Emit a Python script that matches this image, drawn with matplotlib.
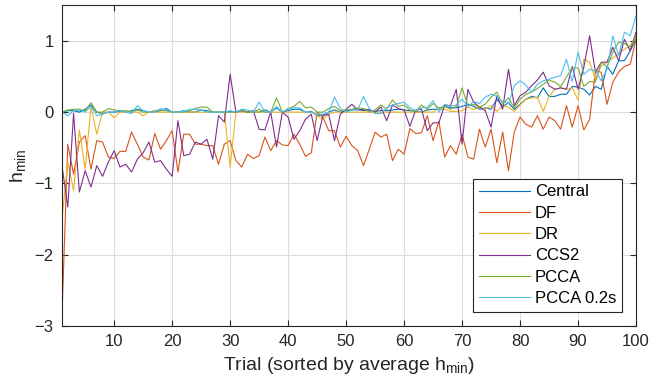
import numpy as np
import matplotlib
matplotlib.use("Agg")
import matplotlib.pyplot as plt

plt.rcParams['font.family'] = ['Liberation Sans', 'DejaVu Sans']

trials = np.arange(1, 101)

central = [0.0, 0.02, 0.02, 0.0, 0.04, 0.1, 0.0, -0.02, 0.0, 0.0,
           0.01, 0.0, 0.02, 0.04, 0.02, 0.0, 0.0, 0.02, 0.05, 0.0,
           0.0, 0.02, 0.0, 0.0, 0.03, 0.02, 0.0, 0.0, 0.0, 0.01,
           0.0, 0.03, 0.0, 0.0, 0.0, 0.03, 0.0, 0.06, 0.0, 0.02,
           0.04, 0.04, 0.0, 0.01, -0.05, -0.04, 0.0, 0.03, 0.0, 0.02,
           0.03, 0.04, 0.02, 0.03, 0.01, 0.02, 0.02, 0.03, 0.04, 0.03,
           0.02, 0.01, 0.0, 0.03, 0.04, 0.04, 0.08, 0.06, 0.06, 0.08,
           0.11, 0.08, 0.04, 0.06, 0.04, 0.18, 0.08, 0.13, 0.04, 0.11,
           0.18, 0.22, 0.2, 0.34, 0.22, 0.22, 0.25, 0.25, 0.36, 0.35,
           0.32, 0.24, 0.36, 0.32, 0.64, 0.53, 0.72, 0.72, 0.86, 1.02]

df = [-2.85, -0.45, -0.87, -0.42, -0.33, -0.8, -0.4, -0.42, -0.63, -0.65,
      -0.55, -0.55, -0.28, -0.45, -0.63, -0.67, -0.3, -0.52, -0.4, -0.26,
      -0.84, -0.31, -0.31, -0.45, -0.45, -0.47, -0.47, -0.73, -0.45, -0.4,
      -0.68, -0.77, -0.59, -0.65, -0.61, -0.35, -0.54, -0.4, -0.46, -0.47,
      -0.31, -0.45, -0.62, -0.57, 0.0, -0.07, -0.26, -0.26, -0.49, -0.34,
      -0.47, -0.54, -0.75, -0.52, -0.28, -0.35, -0.31, -0.68, -0.52, -0.59,
      -0.23, -0.3, -0.29, -0.05, -0.4, -0.13, -0.63, -0.47, -0.59, -0.31,
      -0.63, -0.66, -0.24, -0.49, -0.24, -0.71, -0.28, -0.82, -0.28, -0.07,
      -0.17, -0.21, -0.05, -0.24, -0.07, -0.12, -0.24, 0.09, -0.21, 0.09,
      -0.25, -0.1, 0.58, 0.56, 0.11, 0.42, 0.56, 0.64, 0.67, 1.02]

dr = [-1.5, -0.7, -1.1, -0.25, -0.8, 0.08, -0.31, 0.0, 0.0, -0.08,
      0.0, 0.0, 0.0, 0.0, -0.05, 0.0, 0.0, 0.0, 0.0, 0.0,
      0.0, 0.0, 0.0, 0.0, 0.0, 0.0, 0.0, 0.0, 0.0, -0.77,
      0.0, 0.0, 0.0, 0.0, 0.0, 0.0, 0.0, 0.0, 0.0, 0.0,
      0.0, 0.0, 0.0, 0.0, -0.05, -0.1, -0.03, 0.0, 0.0, 0.0,
      0.0, 0.0, 0.0, 0.0, 0.0, 0.0, 0.0, 0.0, 0.0, 0.0,
      0.0, 0.0, 0.0, 0.0, 0.0, 0.05, 0.04, 0.01, 0.01, 0.02,
      0.07, 0.04, 0.07, 0.04, 0.09, 0.01, 0.09, 0.07, 0.01, 0.1,
      0.18, 0.2, 0.21, 0.01, 0.22, 0.32, 0.34, 0.32, 0.34, 0.17,
      0.74, 0.7, 0.46, 0.65, 0.7, 0.76, 0.82, 0.88, 0.93, 1.07]

ccs2 = [-0.75, -1.33, -0.02, -1.12, -0.82, -1.05, -0.75, -0.9, -0.7, -0.54,
        -0.77, -0.73, -0.84, -0.66, -0.57, -0.42, -0.7, -0.68, -0.8, -0.9,
        -0.12, -0.61, -0.59, -0.42, -0.45, -0.38, -0.66, -0.05, -0.14, 0.53,
        0.0, 0.02, 0.0, 0.02, -0.24, -0.25, 0.0, -0.49, 0.0, -0.07,
        -0.38, -0.26, -0.1, -0.03, -0.4, -0.05, -0.03, -0.4, -0.03, 0.04,
        0.11, 0.03, 0.04, 0.03, 0.0, 0.07, -0.12, 0.1, 0.05, 0.03,
        -0.2, 0.03, 0.04, -0.26, -0.15, -0.15, 0.1, 0.09, 0.32, -0.45,
        0.32, 0.14, 0.07, 0.02, -0.21, 0.23, 0.04, 0.6, 0.09, 0.23,
        0.28, 0.37, 0.45, 0.56, 0.37, 0.32, 0.34, 0.32, 0.64, 0.32,
        0.63, 1.07, 0.56, 0.7, 0.7, 0.91, 0.72, 1.02, 0.86, 1.12]

pcca = [0.0, 0.03, 0.04, 0.04, 0.02, 0.13, 0.0, 0.0, 0.05, 0.03,
        0.02, 0.02, 0.0, 0.03, 0.0, 0.0, 0.02, 0.03, 0.02, 0.0,
        0.0, 0.0, 0.02, 0.05, 0.07, 0.07, 0.0, 0.0, 0.0, 0.0,
        0.0, 0.02, 0.0, 0.0, 0.04, 0.0, 0.0, 0.2, 0.0, 0.05,
        0.08, 0.15, 0.06, 0.07, 0.0, 0.0, 0.05, 0.08, 0.02, 0.03,
        0.04, 0.06, 0.05, 0.0, 0.03, 0.1, 0.04, 0.17, 0.08, 0.1,
        0.03, 0.0, 0.1, 0.04, 0.12, 0.06, 0.08, 0.04, 0.08, 0.34,
        0.09, 0.11, 0.07, 0.11, 0.21, 0.28, 0.11, 0.2, 0.06, 0.18,
        0.25, 0.28, 0.33, 0.39, 0.45, 0.42, 0.36, 0.49, 0.62, 0.62,
        0.36, 0.43, 0.42, 0.7, 0.63, 0.84, 0.98, 0.96, 0.91, 1.07]

pcca02 = [0.0, -0.05, 0.02, 0.03, 0.0, 0.08, -0.05, -0.03, 0.0, 0.0,
          0.02, 0.0, -0.02, 0.09, 0.02, 0.0, 0.0, 0.05, 0.03, 0.0,
          0.0, 0.01, 0.04, 0.04, 0.03, 0.0, 0.0, 0.0, 0.0, 0.02,
          0.0, 0.04, 0.03, 0.0, 0.14, 0.0, 0.0, 0.08, 0.0, 0.04,
          0.06, 0.06, 0.0, 0.0, -0.03, -0.03, 0.0, 0.21, 0.05, 0.0,
          0.03, 0.03, 0.22, 0.05, -0.02, -0.02, 0.06, 0.1, 0.12, 0.14,
          0.06, 0.02, 0.06, 0.07, 0.16, 0.0, 0.11, 0.08, 0.1, 0.18,
          0.08, 0.15, 0.12, 0.21, 0.25, 0.22, 0.15, 0.12, 0.37, 0.44,
          0.38, 0.28, 0.39, 0.44, 0.46, 0.49, 0.51, 0.74, 0.43, 0.84,
          0.53, 0.6, 0.58, 0.44, 0.6, 1.07, 0.79, 1.12, 1.07, 1.35]

names = ['Central', 'DF', 'DR', 'CCS2', 'PCCA', 'PCCA 0.2s']
series = [central, df, dr, ccs2, pcca, pcca02]
colors = ['#0072BD', '#D95319', '#EDB120', '#7E2F8E', '#77AC30', '#4DBEEE']

fig = plt.figure(figsize=(6.49, 3.92), dpi=100)
ax = fig.add_axes([0.0955, 0.168, 0.8845, 0.819])

for name, vals, c in zip(names, series, colors):
    ax.plot(trials, vals, color=c, lw=0.8, label=name)

ax.set_xlim(1, 100)
ax.set_ylim(-3, 1.5)
ax.set_xticks(range(10, 101, 10))
ax.set_yticks([-3, -2, -1, 0, 1])
ax.grid(True, color='#dcdcdc', lw=0.8)
ax.set_axisbelow(True)
ax.tick_params(direction='in', top=True, right=True, length=4, width=0.8,
               colors='#262626', labelsize=12, pad=6)
for s in ax.spines.values():
    s.set_color('#262626')
    s.set_linewidth(0.8)

ax.set_xlabel('Trial (sorted by average h$_{\\mathregular{min}}$)', fontsize=14,
              color='#262626', labelpad=4)
ax.set_ylabel('h$_{\\mathregular{min}}$', fontsize=14, color='#262626')

leg = ax.legend(loc='lower right', fontsize=12, handlelength=3.1, fancybox=False,
                framealpha=1, edgecolor='#262626', borderpad=0.35, labelspacing=0.38,
                handletextpad=0.25, borderaxespad=0.85)
leg.get_frame().set_linewidth(0.8)

fig.savefig('out.png', dpi=100)
